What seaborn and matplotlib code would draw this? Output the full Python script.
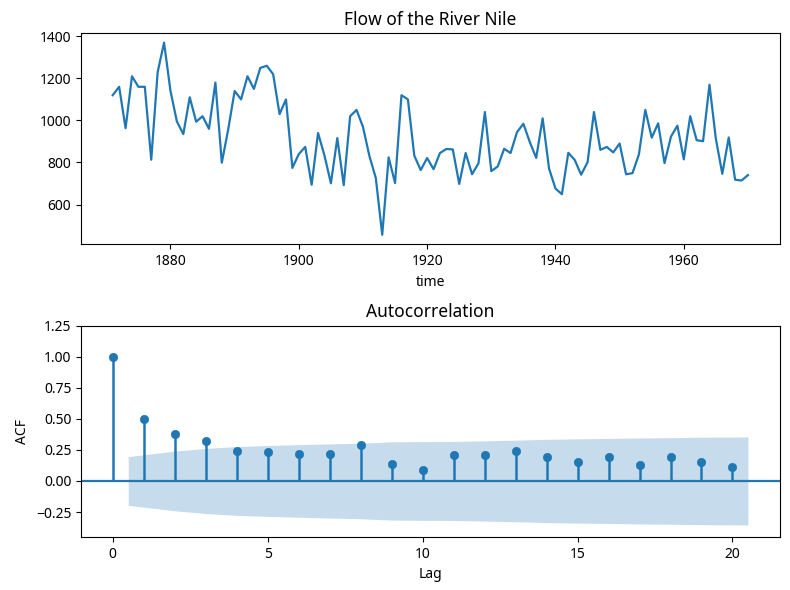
import numpy as np
import pandas as pd
import seaborn as sns
import matplotlib
matplotlib.use('Agg')
import matplotlib.pyplot as plt

plt.rcParams['font.family'] = ['Noto Sans', 'DejaVu Sans']

# Nile flow, 1871-1970
years = list(range(1871, 1971))
flow = [1120, 1160, 963, 1210, 1160, 1160, 813, 1230, 1370, 1140,
        995, 935, 1110, 994, 1020, 960, 1180, 799, 958, 1140,
        1100, 1210, 1150, 1250, 1260, 1220, 1030, 1100, 774, 840,
        874, 694, 940, 833, 701, 916, 692, 1020, 1050, 969,
        831, 726, 456, 824, 702, 1120, 1100, 832, 764, 821,
        768, 845, 864, 862, 698, 845, 744, 796, 1040, 759,
        781, 865, 845, 944, 984, 897, 822, 1010, 771, 676,
        649, 846, 812, 742, 801, 1040, 860, 874, 848, 890,
        744, 749, 838, 1050, 918, 986, 797, 923, 975, 815,
        1020, 906, 901, 1170, 912, 746, 919, 718, 714, 740]

# autocorrelation
lags = list(range(21))
acf = [1.00, 0.50, 0.38, 0.32, 0.24, 0.23, 0.22, 0.22, 0.29, 0.14,
       0.09, 0.21, 0.21, 0.24, 0.19, 0.15, 0.19, 0.13, 0.19, 0.15, 0.11]
# half-width of the 95% band at lags 1..20
band = [0.196, 0.240, 0.262, 0.277, 0.285, 0.292, 0.298, 0.304, 0.315, 0.317,
        0.318, 0.323, 0.328, 0.335, 0.339, 0.342, 0.346, 0.348, 0.352, 0.354]

nile = pd.DataFrame({'time': years, 'flow': flow})

fig, (ax1, ax2) = plt.subplots(2, 1, figsize=(7.9, 5.9), dpi=100)
fig.subplots_adjust(left=0.1025, right=0.987, top=0.944, bottom=0.09, hspace=0.384)

sns.lineplot(data=nile, x='time', y='flow', ax=ax1, color='C0', linewidth=1.6)
ax1.set_title('Flow of the River Nile', fontsize=12.5)
ax1.set_xlabel('time')
ax1.set_ylabel('')

# band x positions: lag 1 pulled back to 0.5, last lag pushed to 20.5
band_x = np.array(lags[1:], dtype=float)
band_x[0] -= 0.5
band_x[-1] += 0.5
band = np.array(band)
ax2.fill_between(band_x, -band, band, alpha=0.25, color='C0', linewidth=0)
ax2.axhline(0, color='C0', linewidth=1.6)
ax2.vlines(lags, 0, acf, color='C0', linewidth=1.8)
sns.scatterplot(x=lags, y=acf, ax=ax2, color='C0', s=36, edgecolor='C0', zorder=3)
ax2.set_title('Autocorrelation', fontsize=12.5)
ax2.set_xlabel('Lag')
ax2.set_ylabel('ACF')
ax2.set_xlim(-1.025, 21.525)
ax2.set_ylim(-0.45, 1.25)
ax2.set_yticks([-0.25, 0.0, 0.25, 0.5, 0.75, 1.0, 1.25])

plt.savefig('out.png')
